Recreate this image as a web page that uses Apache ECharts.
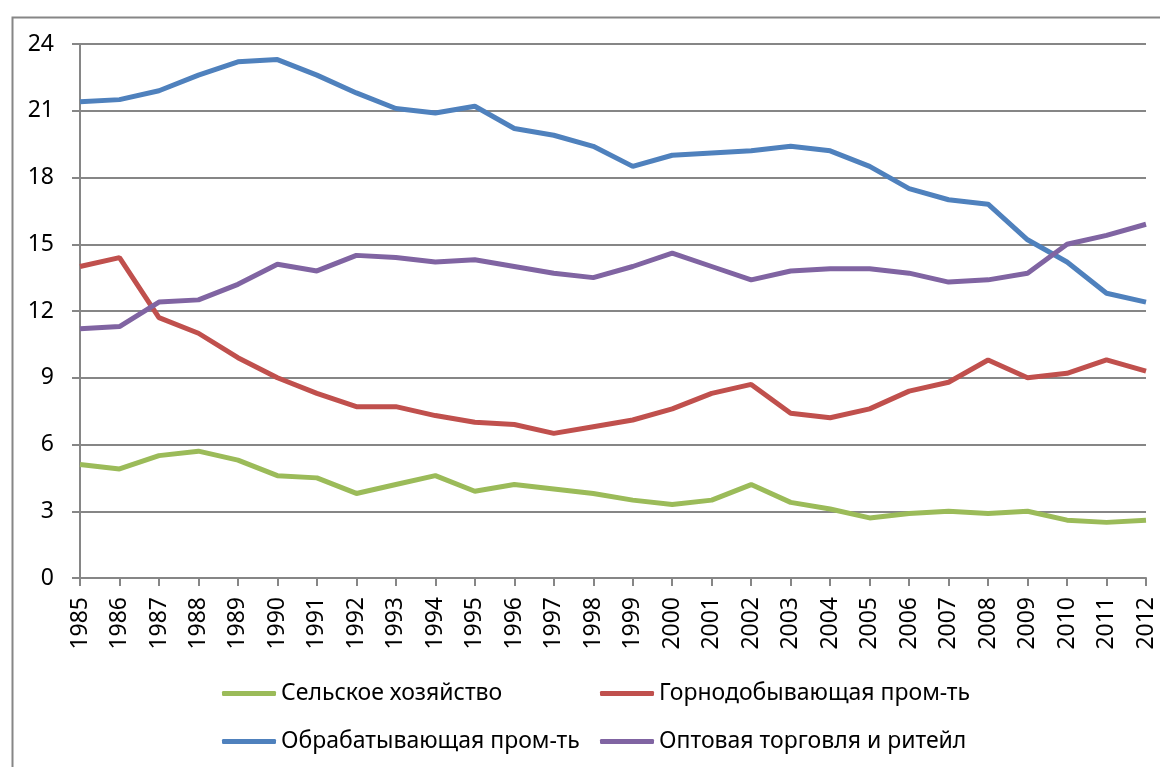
<!DOCTYPE html>
<html>
<head>
<meta charset="utf-8">
<script src="https://cdn.jsdelivr.net/npm/echarts@6/dist/echarts.min.js"></script>
<style>
html,body{margin:0;padding:0;background:#fff;}
#chart{width:1160px;height:767px;}
</style>
</head>
<body>
<div id="chart"></div>
<script>
const years = ['1985','1986','1987','1988','1989','1990','1991','1992','1993','1994','1995','1996','1997','1998','1999','2000','2001','2002','2003','2004','2005','2006','2007','2008','2009','2010','2011','2012'];
const agriculture = [5.1,4.9,5.5,5.7,5.3,4.6,4.5,3.8,4.2,4.6,3.9,4.2,4.0,3.8,3.5,3.3,3.5,4.2,3.4,3.1,2.7,2.9,3.0,2.9,3.0,2.6,2.5,2.6];
const mining = [14.0,14.4,11.7,11.0,9.9,9.0,8.3,7.7,7.7,7.3,7.0,6.9,6.5,6.8,7.1,7.6,8.3,8.7,7.4,7.2,7.6,8.4,8.8,9.8,9.0,9.2,9.8,9.3];
const manufacturing = [21.4,21.5,21.9,22.6,23.2,23.3,22.6,21.8,21.1,20.9,21.2,20.2,19.9,19.4,18.5,19.0,19.1,19.2,19.4,19.2,18.5,17.5,17.0,16.8,15.2,14.2,12.8,12.4];
const trade = [11.2,11.3,12.4,12.5,13.2,14.1,13.8,14.5,14.4,14.2,14.3,14.0,13.7,13.5,14.0,14.6,14.0,13.4,13.8,13.9,13.9,13.7,13.3,13.4,13.7,15.0,15.4,15.9];
const seriesNames = ['Сельское хозяйство','Горнодобывающая пром-ть','Обрабатывающая пром-ть','Оптовая торговля и ритейл'];
const seriesColors = ['#9BBB59','#C0504D','#4F81BD','#8064A2'];
const seriesData = [agriculture, mining, manufacturing, trade];

const FONT = 'Noto Sans';
const chart = echarts.init(document.getElementById('chart'), null, {renderer:'canvas'});
chart.setOption({
  animation:false,
  backgroundColor:'#fff',
  textStyle:{fontFamily:FONT},
  graphic:[{type:'rect',left:10,top:15,shape:{x:0,y:0,width:1200,height:800},style:{fill:'none',stroke:'#868686',lineWidth:2},silent:true}],
  grid:{left:80,right:14,top:44,bottom:189},
  xAxis:{
    type:'category',data:years,boundaryGap:false,
    axisLine:{lineStyle:{color:'#868686',width:2}},
    axisTick:{show:true,length:8,lineStyle:{color:'#868686',width:2}},
    axisLabel:{rotate:90,margin:19,fontSize:23,color:'#000',fontFamily:FONT,interval:0}
  },
  yAxis:{
    type:'value',min:0,max:24,interval:3,
    axisLine:{show:true,lineStyle:{color:'#868686',width:2}},
    axisTick:{show:true,length:8,lineStyle:{color:'#868686',width:2}},
    splitLine:{show:true,lineStyle:{color:'#868686',width:2}},
    axisLabel:{margin:26,fontSize:23,color:'#000',fontFamily:FONT}
  },
  legend:{
    left:217,top:674,width:760,
    itemWidth:54,itemHeight:5,itemGap:19,
    icon:'roundRect',
    data:seriesNames,
    textStyle:{fontSize:23,color:'#000',fontFamily:FONT,width:300,lineHeight:29}
  },
  series:seriesNames.map((n,i)=>({
    name:n,type:'line',data:seriesData[i],symbol:'none',
    lineStyle:{color:seriesColors[i],width:5},
    itemStyle:{color:seriesColors[i]}
  }))
});
</script>
</body>
</html>
